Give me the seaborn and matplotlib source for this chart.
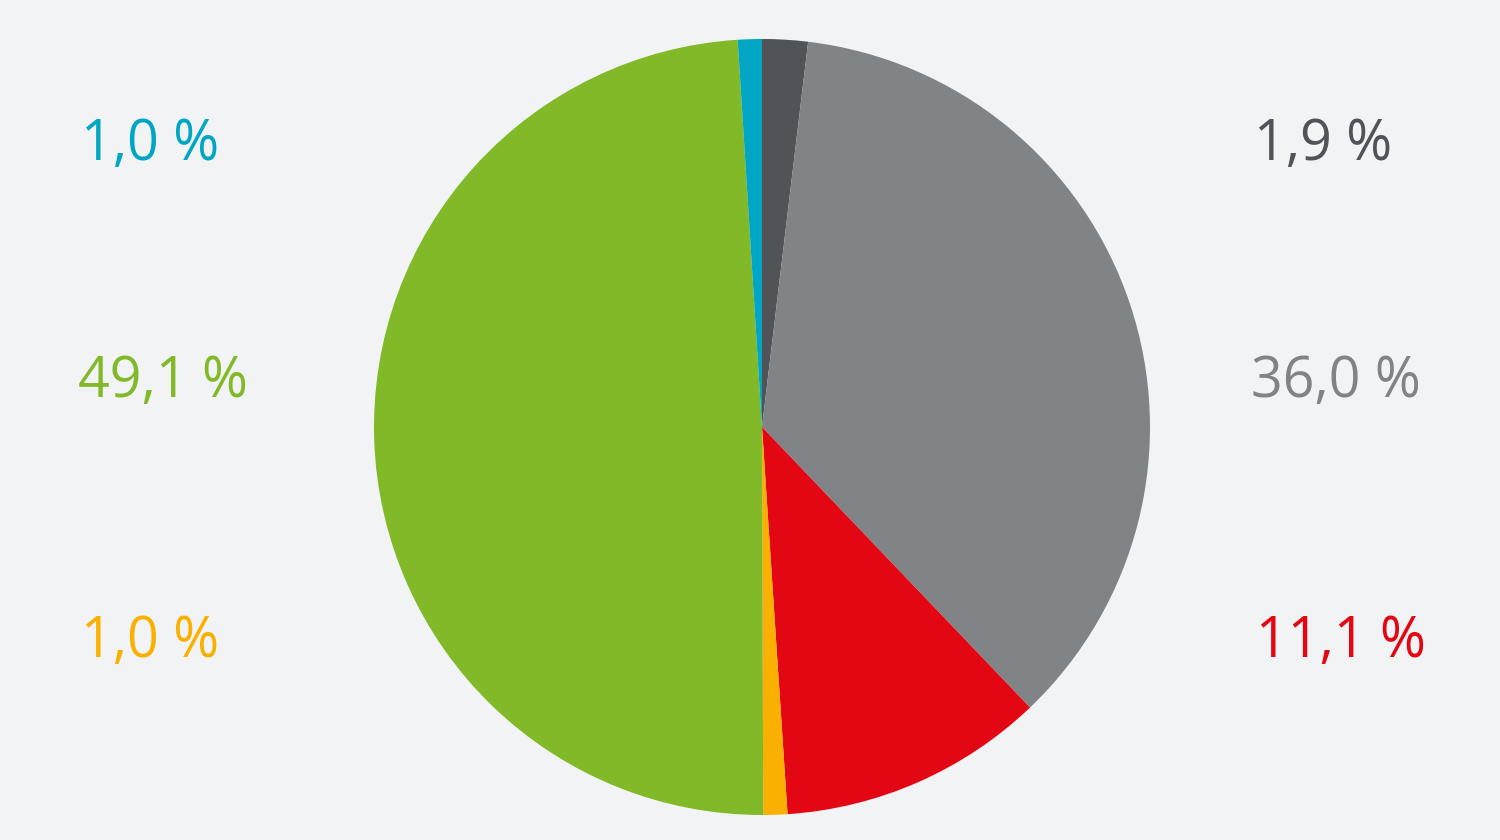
import matplotlib
matplotlib.use("Agg")
import matplotlib.pyplot as plt
import seaborn as sns

# data, clockwise from 12 o'clock
shares = [1.9, 36.0, 11.1, 1.0, 49.1, 1.0]
labels = ["1,9 %", "36,0 %", "11,1 %", "1,0 %", "49,1 %", "1,0 %"]
colors = ["#505458", "#808487", "#E30613", "#F9B000", "#82B928", "#00A6C4"]

# label placement (figure fraction), right column then left column
label_x = [0.836, 0.834, 0.837, 0.054, 0.052, 0.054]
label_y = [1 - 160 / 840, 1 - 397 / 840, 1 - 657 / 840,
           1 - 657 / 840, 1 - 397 / 840, 1 - 160 / 840]

bg = "#F2F3F5"
sns.set_theme(style="white")
plt.rcParams["font.family"] = ["Open Sans", "DejaVu Sans"]

fig = plt.figure(figsize=(15, 8.4), dpi=100, facecolor=bg)

# pie centre at (762, 427) px, radius 388 px
cx, cy, r = 762 / 1500, 1 - 427 / 840, 388
ax = fig.add_axes([cx - r / 1500, cy - r / 840, 2 * r / 1500, 2 * r / 840])
ax.set_facecolor(bg)
ax.pie(shares, colors=sns.color_palette(colors), startangle=90,
       counterclock=False, wedgeprops=dict(linewidth=0))
ax.set_xlim(-1, 1)
ax.set_ylim(-1, 1)
ax.axis("off")

for txt, c, x, y in zip(labels, colors, label_x, label_y):
    fig.text(x, y, txt, color=c, fontsize=40, ha="left", va="baseline")

fig.savefig("out.png", dpi=100, facecolor=bg)
